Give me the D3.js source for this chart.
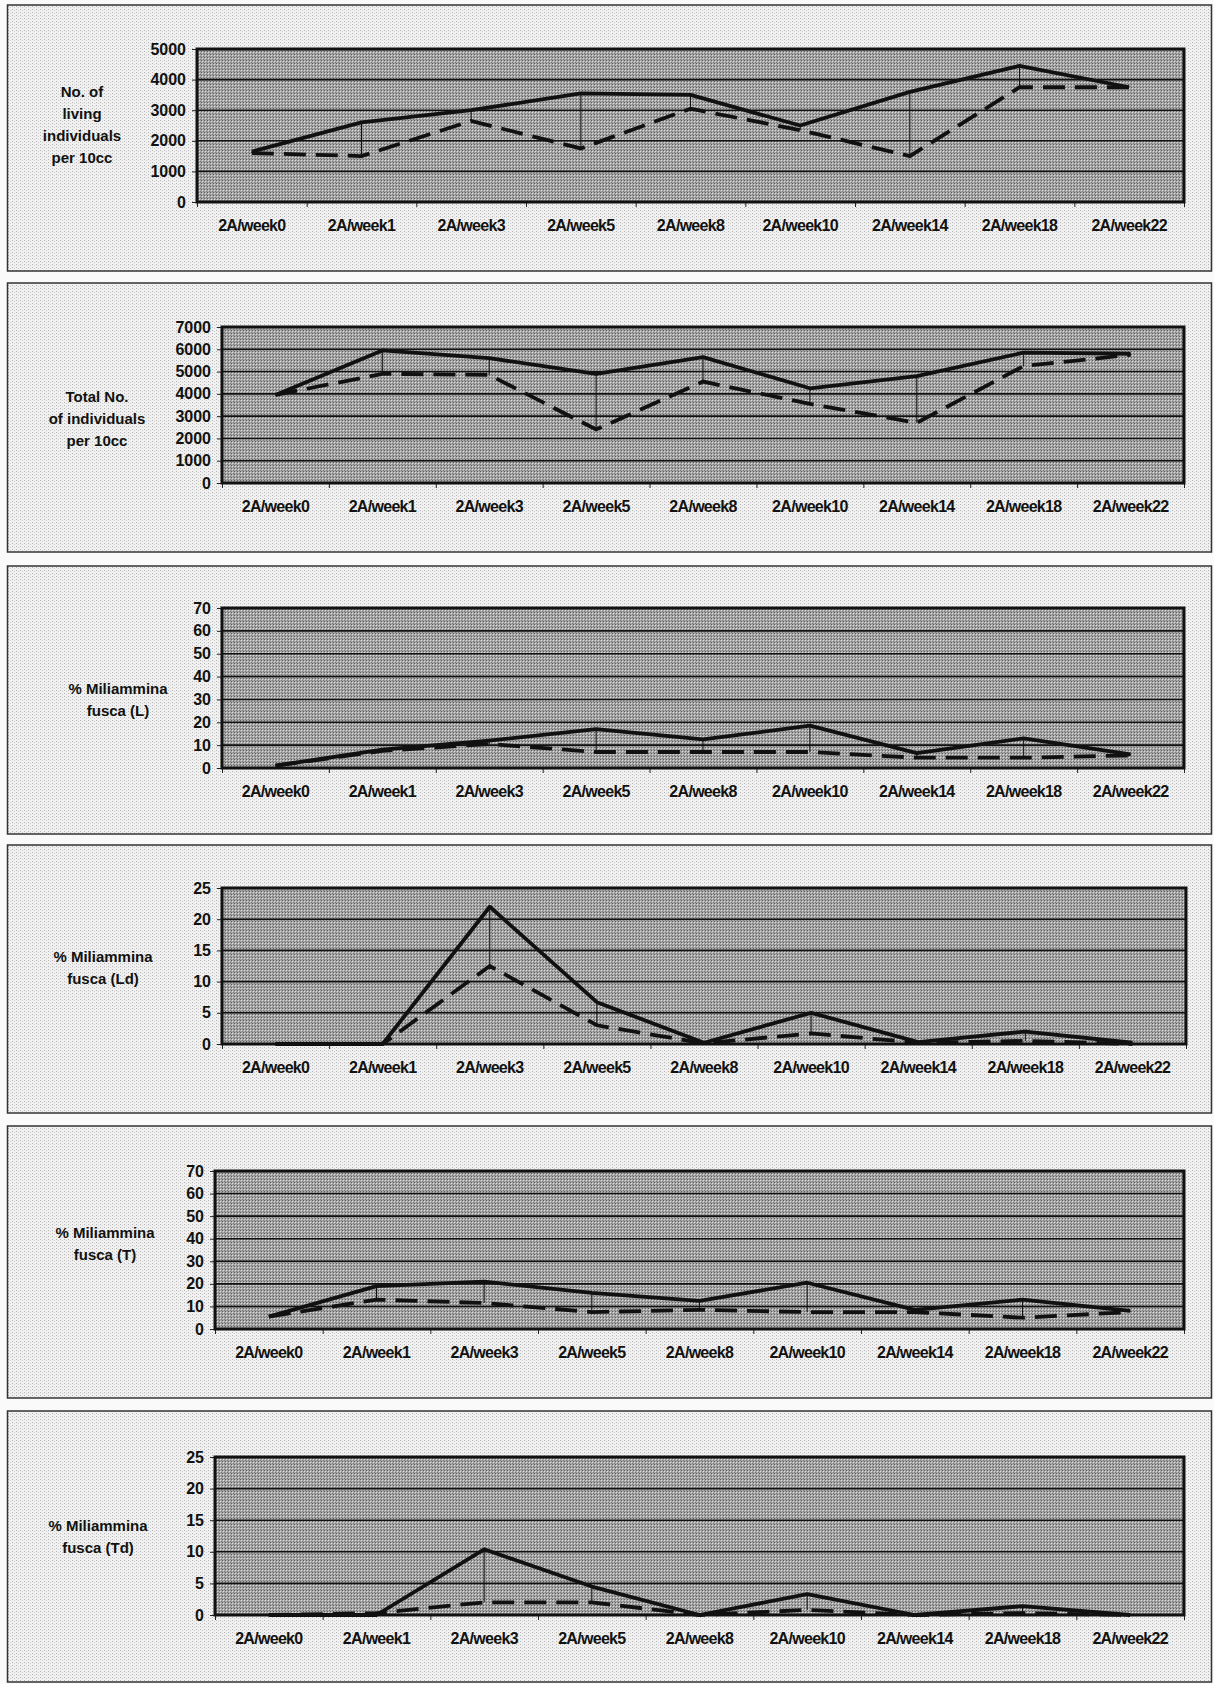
<!DOCTYPE html>
<meta charset="utf-8">
<script src="https://d3js.org/d3.v7.min.js"></script>
<style>
  body { margin: 0; background: #fafafa; }
  text { font-family: "Liberation Sans", Arial, sans-serif; font-weight: bold; fill: #111; }
</style>
<div id="chart"></div>
<script>

// categories on the x axis (same for every panel)
var categories = ["2A/week0", "2A/week1", "2A/week3", "2A/week5", "2A/week8",
                  "2A/week10", "2A/week14", "2A/week18", "2A/week22"];

// values: solid line and dashed line of each panel
var livingSolid  = [1650, 2600, 3000, 3550, 3500, 2500, 3600, 4450, 3750];
var livingDashed = [1600, 1500, 2650, 1750, 3050, 2350, 1500, 3750, 3750];

var totalSolid  = [3950, 5950, 5600, 4900, 5650, 4250, 4800, 5850, 5800];
var totalDashed = [3950, 4900, 4850, 2400, 4550, 3550, 2700, 5250, 5750];

var lSolid  = [1, 8, 12, 17, 12.5, 18.5, 6.5, 13, 6];
var lDashed = [1, 7.5, 10.5, 7, 7, 7, 4.5, 4.5, 5.5];

var ldSolid  = [0, 0, 22, 6.7, 0.2, 5, 0.3, 2, 0.2];
var ldDashed = [0, 0, 12.5, 3, 0.1, 1.7, 0.2, 0.5, 0];

var tSolid  = [5.5, 19, 21, 16, 12.5, 20.5, 8.5, 13, 8];
var tDashed = [5.5, 13, 11.5, 7.5, 8.5, 7.5, 7.5, 5, 7.5];

var tdSolid  = [0, 0, 10.4, 4.5, 0, 3.3, 0, 1.4, 0];
var tdDashed = [0, 0.3, 2, 2, 0, 0.8, 0, 0.3, 0];

// y tick labels
var ticksLiving = [0, 1000, 2000, 3000, 4000, 5000];
var ticksTotal  = [0, 1000, 2000, 3000, 4000, 5000, 6000, 7000];
var ticks70     = [0, 10, 20, 30, 40, 50, 60, 70];
var ticks25     = [0, 5, 10, 15, 20, 25];

// y axis titles
var titleLiving = ["No. of", "living", "individuals", "per 10cc"];
var titleTotal  = ["Total No.", "of individuals", "per 10cc"];
var titleL  = ["% Miliammina", "fusca (L)"];
var titleLd = ["% Miliammina", "fusca (Ld)"];
var titleT  = ["% Miliammina", "fusca (T)"];
var titleTd = ["% Miliammina", "fusca (Td)"];

// layout of the six stacked panels
var panels = [
  {solid: livingSolid, dashed: livingDashed, ticks: ticksLiving, title: titleLiving,
   boxTop: 5, boxBottom: 271, left: 197, right: 1184, top: 49, bottom: 202, tx: 82, ty: 92},
  {solid: totalSolid, dashed: totalDashed, ticks: ticksTotal, title: titleTotal,
   boxTop: 283, boxBottom: 552, left: 222, right: 1184, top: 327, bottom: 483, tx: 97, ty: 397},
  {solid: lSolid, dashed: lDashed, ticks: ticks70, title: titleL,
   boxTop: 566, boxBottom: 834, left: 222, right: 1184, top: 608, bottom: 768, tx: 118, ty: 689},
  {solid: ldSolid, dashed: ldDashed, ticks: ticks25, title: titleLd,
   boxTop: 845, boxBottom: 1113, left: 222, right: 1186, top: 888, bottom: 1044, tx: 103, ty: 957},
  {solid: tSolid, dashed: tDashed, ticks: ticks70, title: titleT,
   boxTop: 1126, boxBottom: 1398, left: 215, right: 1184, top: 1171, bottom: 1329, tx: 105, ty: 1233},
  {solid: tdSolid, dashed: tdDashed, ticks: ticks25, title: titleTd,
   boxTop: 1411, boxBottom: 1682, left: 215, right: 1184, top: 1457, bottom: 1615, tx: 98, ty: 1526}
];

var svg = d3.select("#chart")
  .append("svg")
    .attr("width", 1214)
    .attr("height", 1684);

// halftone-ish textures of the scan
var defs = svg.append("defs");
var paper = defs.append("pattern")
    .attr("id", "paper")
    .attr("width", 4).attr("height", 3)
    .attr("patternUnits", "userSpaceOnUse");
paper.append("rect").attr("width", 4).attr("height", 3).attr("fill", "#f1f1f1");
paper.append("rect").attr("x", 0).attr("y", 0).attr("width", 1).attr("height", 1).attr("fill", "#b4b4b4");
paper.append("rect").attr("x", 2).attr("y", 1).attr("width", 1).attr("height", 1).attr("fill", "#cdcdcd");

var shade = defs.append("pattern")
    .attr("id", "shade")
    .attr("width", 3).attr("height", 3)
    .attr("patternUnits", "userSpaceOnUse");
shade.append("rect").attr("width", 3).attr("height", 3).attr("fill", "#a6a6a6");
shade.append("rect").attr("x", 0).attr("y", 0).attr("width", 1).attr("height", 1).attr("fill", "#5e5e5e");
shade.append("rect").attr("x", 1).attr("y", 1).attr("width", 1).attr("height", 1).attr("fill", "#dcdcdc");
shade.append("rect").attr("x", 2).attr("y", 2).attr("width", 1).attr("height", 1).attr("fill", "#7c7c7c");

panels.forEach(function(p) {

  var g = svg.append("g");

  // panel frame
  g.append("rect")
    .attr("x", 7.5).attr("y", p.boxTop)
    .attr("width", 1204).attr("height", p.boxBottom - p.boxTop)
    .attr("fill", "url(#paper)")
    .attr("stroke", "#333")
    .attr("stroke-width", 1.5);

  var x = d3.scaleBand()
    .domain(categories)
    .range([p.left, p.right]);

  // tick marks sit between categories
  var xEdge = d3.scaleLinear()
    .domain([0, categories.length])
    .range([p.left, p.right]);

  var y = d3.scaleLinear()
    .domain([0, d3.max(p.ticks)])
    .range([p.bottom, p.top]);

  // plot area
  g.append("rect")
    .attr("x", p.left).attr("y", p.top)
    .attr("width", p.right - p.left).attr("height", p.bottom - p.top)
    .attr("fill", "url(#shade)");

  // gridlines
  g.selectAll(".grid")
    .data(p.ticks)
    .enter()
    .append("line")
      .attr("x1", p.left).attr("x2", p.right)
      .attr("y1", function(d) { return y(d); })
      .attr("y2", function(d) { return y(d); })
      .attr("stroke", "#111")
      .attr("stroke-width", 1.6);

  // Y axis
  g.append("g")
    .attr("transform", "translate(" + p.left + ",0)")
    .call(d3.axisLeft(y).tickValues(p.ticks).tickSize(5).tickPadding(6).tickFormat(d3.format("d")))
    .call(function(a) {
      a.select(".domain").remove();
      a.selectAll("line").attr("stroke", "#222");
      a.selectAll("text")
        .attr("fill", "#111")
        .style("font-size", "16px")
        .style("font-family", "'Liberation Sans', Arial, sans-serif")
        .style("font-weight", "bold");
    });

  // X axis ticks (between categories)
  g.append("g")
    .attr("transform", "translate(0," + p.bottom + ")")
    .call(d3.axisBottom(xEdge).tickValues(d3.range(categories.length + 1)).tickSize(5).tickFormat(""))
    .call(function(a) {
      a.select(".domain").remove();
      a.selectAll("line").attr("stroke", "#222");
    });

  // X axis labels
  g.append("g")
    .attr("transform", "translate(0," + (p.bottom + 12) + ")")
    .call(d3.axisBottom(x).tickSize(0).tickPadding(6))
    .call(function(a) {
      a.select(".domain").remove();
      a.selectAll("text")
        .attr("fill", "#111")
        .style("font-size", "16px")
        .style("letter-spacing", "-0.7px")
        .style("font-family", "'Liberation Sans', Arial, sans-serif")
        .style("font-weight", "bold");
    });

  // high-low drop lines
  g.selectAll(".drop")
    .data(categories)
    .enter()
    .append("line")
      .attr("x1", function(d) { return x(d) + x.bandwidth() / 2; })
      .attr("x2", function(d) { return x(d) + x.bandwidth() / 2; })
      .attr("y1", function(d, i) { return y(p.solid[i]); })
      .attr("y2", function(d, i) { return y(p.dashed[i]); })
      .attr("stroke", "#111")
      .attr("stroke-width", 1);

  var line = d3.line()
    .x(function(d, i) { return x(categories[i]) + x.bandwidth() / 2; })
    .y(function(d) { return y(d); });

  g.append("path")
    .datum(p.dashed)
    .attr("fill", "none")
    .attr("stroke", "#111")
    .attr("stroke-width", 3.8)
    .attr("stroke-dasharray", "22,10")
    .attr("d", line);

  g.append("path")
    .datum(p.solid)
    .attr("fill", "none")
    .attr("stroke", "#111")
    .attr("stroke-width", 3.8)
    .attr("stroke-linejoin", "round")
    .attr("d", line);

  // plot border
  g.append("rect")
    .attr("x", p.left).attr("y", p.top)
    .attr("width", p.right - p.left).attr("height", p.bottom - p.top)
    .attr("fill", "none")
    .attr("stroke", "#111")
    .attr("stroke-width", 3);

  // y axis title
  g.append("text")
    .attr("x", p.tx)
    .attr("y", p.ty)
    .style("text-anchor", "middle")
    .style("font-size", "15px")
    .selectAll("tspan")
    .data(p.title)
    .enter()
    .append("tspan")
      .attr("x", p.tx)
      .attr("dy", function(d, i) { return i === 0 ? "0.35em" : "22px"; })
      .text(function(d) { return d; });
});

</script>
